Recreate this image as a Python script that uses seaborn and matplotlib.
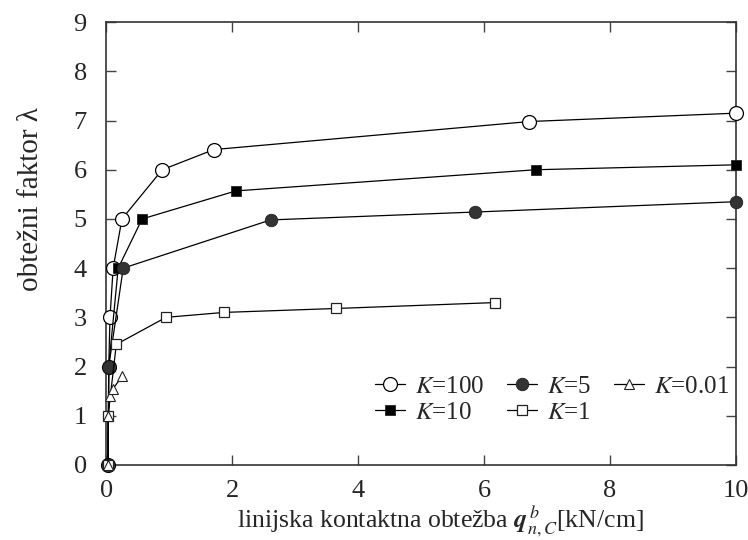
import matplotlib
matplotlib.use("Agg")
import matplotlib.pyplot as plt
import seaborn as sns
import numpy as np

# ---- data ----
x_k100 = [0.03, 0.04, 0.06, 0.11, 0.25, 0.89, 1.71, 6.72, 10.0]
y_k100 = [0.0, 2.0, 3.0, 4.0, 5.0, 6.0, 6.41, 6.98, 7.15]

x_k10 = [0.03, 0.04, 0.19, 0.57, 2.06, 6.82, 10.0]
y_k10 = [0.0, 2.0, 4.0, 5.0, 5.57, 6.0, 6.1]

x_k5 = [0.03, 0.04, 0.27, 2.61, 5.85, 10.0]
y_k5 = [0.0, 2.0, 4.0, 4.98, 5.14, 5.35]

x_k1 = [0.03, 0.03, 0.16, 0.95, 1.87, 3.65, 6.17]
y_k1 = [0.0, 1.0, 2.45, 3.0, 3.1, 3.18, 3.3]

x_k001 = [0.03, 0.03, 0.06, 0.11, 0.25]
y_k001 = [0.0, 1.0, 1.41, 1.55, 1.8]

labels = ["$K$=100", "$K$=10", "$K$=5", "$K$=1", "$K$=0.01"]
x_ticks = [0, 2, 4, 6, 8, 10]
y_ticks = [0, 1, 2, 3, 4, 5, 6, 7, 8, 9]

sns.set_style("ticks")
plt.rcParams["font.family"] = ["Liberation Serif", "DejaVu Serif"]
plt.rcParams["mathtext.fontset"] = "stix"

fig = plt.figure(figsize=(7.48, 5.40), dpi=100)
ax = fig.add_axes([0.142, 0.139, 0.842, 0.820])

dark = "#333333"
styles = [
    dict(marker="o", markersize=10, markerfacecolor="white", markeredgecolor="black", markeredgewidth=0.9),
    dict(marker="s", markersize=7, markerfacecolor="black", markeredgecolor="#222222", markeredgewidth=0.6),
    dict(marker="o", markersize=9, markerfacecolor=dark, markeredgecolor="#222222", markeredgewidth=0.6),
    dict(marker="s", markersize=7, markerfacecolor="white", markeredgecolor="#222222", markeredgewidth=0.9),
    dict(marker="^", markersize=7, markerfacecolor="white", markeredgecolor="#222222", markeredgewidth=0.8),
]
series = [(x_k100, y_k100), (x_k10, y_k10), (x_k5, y_k5), (x_k1, y_k1), (x_k001, y_k001)]

for (xs, ys), lab, st in zip(series, labels, styles):
    sns.lineplot(x=xs, y=ys, ax=ax, sort=False, estimator=None, color="black",
                 linewidth=0.9, label=lab, clip_on=False, zorder=3, **st)

ax.set_xlim(0, 10)
ax.set_ylim(0, 9)
ax.set_xticks(x_ticks)
ax.set_yticks(y_ticks)
ax.tick_params(axis="both", which="major", direction="in", length=7, width=1.0,
               labelsize=19, top=True, right=True, color="#444444")
ax.tick_params(axis="x", pad=11)
ax.tick_params(axis="y", pad=14)
for sp in ax.spines.values():
    sp.set_visible(True)
    sp.set_color("#333333")
    sp.set_linewidth(1.2)

ax.set_xlabel(r"linijska kontaktna obtežba $\mathbfit{q}_{n,C}^{\,b}$[kN/cm]", fontsize=18.5)
ax.xaxis.set_label_coords(0.53, -0.083)
ax.set_ylabel("obtežni faktor λ", fontsize=21)
ax.yaxis.set_label_coords(-0.098, 0.6)

handles, labs = ax.get_legend_handles_labels()
leg = ax.legend(handles, labs, ncol=3, loc="upper left", bbox_to_anchor=(0.399, 0.242),
                frameon=False, fontsize=18, handlelength=1.2, handletextpad=0.4,
                columnspacing=0.9, labelspacing=0.15, borderpad=0.2)

fig.savefig("out.png", dpi=100)
